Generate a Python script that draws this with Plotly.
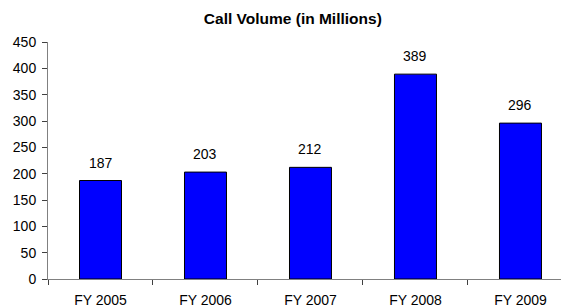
import plotly.graph_objects as go

categories = ["FY 2005", "FY 2006", "FY 2007", "FY 2008", "FY 2009"]
values = [187, 203, 212, 389, 296]
y_ticks = [0, 50, 100, 150, 200, 250, 300, 350, 400, 450]

FONT = "Liberation Sans, Arial, sans-serif"

fig = go.Figure()
fig.add_trace(go.Bar(
    x=categories, y=values,
    marker=dict(color="#0000FF", line=dict(color="#000000", width=1)),
    width=0.4,
    hoverinfo="skip",
))

for c, v in zip(categories, values):
    fig.add_annotation(x=c, y=v, text=str(v), showarrow=False,
                       yanchor="bottom", yshift=8,
                       font=dict(family=FONT, size=14, color="#000"))

fig.update_layout(
    width=561, height=308,
    margin=dict(l=48, r=0, t=42, b=29),
    paper_bgcolor="white", plot_bgcolor="white",
    showlegend=False,
    title=dict(text="<b>Call Volume (in Millions)</b>", x=0.522, xanchor="center",
               y=0.94, yanchor="middle",
               font=dict(family=FONT, size=15.5, color="#000")),
    font=dict(family=FONT, size=14, color="#000"),
    xaxis=dict(
        type="category",
        range=[-0.5, 4.386],
        showline=True, linecolor="#808080", linewidth=1,
        ticks="outside", tickson="boundaries", ticklen=5, tickcolor="#404040",
        showgrid=False, zeroline=False,
        ticklabelstandoff=8,
        tickfont=dict(family=FONT, size=14, color="#000"),
    ),
    yaxis=dict(
        range=[0, 450],
        tickvals=y_ticks,
        showline=True, linecolor="#808080", linewidth=1,
        ticks="outside", ticklen=5, tickcolor="#404040",
        showgrid=False, zeroline=False,
        ticklabelstandoff=3,
        tickfont=dict(family=FONT, size=14, color="#000"),
    ),
)

fig.write_html("out.html", config={"displayModeBar": False},
               post_script="document.body.style.margin='0';document.body.style.overflow='hidden';")
